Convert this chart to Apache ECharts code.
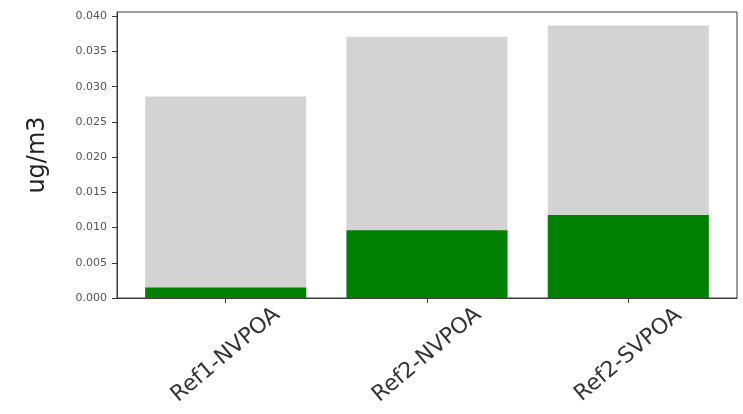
<!DOCTYPE html>
<html>
<head>
<meta charset="utf-8">
<script src="https://cdn.jsdelivr.net/npm/echarts@6/dist/echarts.min.js"></script>
<style>
  html, body { margin: 0; padding: 0; background: #ffffff; }
  #chart { width: 743px; height: 414px; }
</style>
</head>
<body>
<div id="chart"></div>
<script>
// Aerosol concentration per reference case
const categories = ['Ref1-NVPOA', 'Ref2-NVPOA', 'Ref2-SVPOA'];
const totalValues = [0.0286, 0.0371, 0.0387];   // light grey bars
const greenValues = [0.0015, 0.0096, 0.0118];   // green bars drawn over them
const yTicks = [0, 0.005, 0.010, 0.015, 0.020, 0.025, 0.030, 0.035, 0.040];
const catPositions = categories.map((_, i) => i);

const chart = echarts.init(document.getElementById('chart'), null, { renderer: 'canvas' });

const frameColor = '#3a3a3a';
const font = 'DejaVu Sans';

chart.setOption({
  animation: false,
  backgroundColor: '#ffffff',
  grid: {
    left: 117, right: 6, top: 12, bottom: 116,
    show: true, borderColor: frameColor, borderWidth: 1, backgroundColor: 'transparent'
  },
  xAxis: {
    type: 'value',
    min: -0.54,
    max: 2.54,
    splitLine: { show: false },
    axisLine: { show: true, onZero: false, lineStyle: { color: frameColor, width: 1 } },
    axisTick: { show: true, length: 5, customValues: catPositions, lineStyle: { color: frameColor } },
    axisLabel: {
      customValues: catPositions,
      formatter: (v) => categories[Math.round(v)],
      rotate: 40,
      align: 'center',
      verticalAlign: 'middle',
      margin: 57,
      fontFamily: font,
      fontSize: 22,
      color: '#333333'
    }
  },
  yAxis: {
    type: 'value',
    min: 0,
    max: 0.0406,
    name: 'ug/m3',
    nameLocation: 'middle',
    nameGap: 67,
    nameTextStyle: { fontFamily: font, fontSize: 24, color: '#222222' },
    splitLine: { show: false },
    axisLine: { show: true, onZero: false, lineStyle: { color: frameColor, width: 1 } },
    axisTick: { show: true, length: 5, customValues: yTicks, lineStyle: { color: frameColor } },
    axisLabel: {
      customValues: yTicks,
      formatter: (v) => v.toFixed(3),
      margin: 10,
      fontFamily: font,
      fontSize: 11,
      color: '#555555'
    }
  },
  series: [
    {
      name: 'total',
      type: 'bar',
      data: catPositions.map((x, i) => [x, totalValues[i]]),
      barWidth: '80%',
      barGap: '-100%',
      itemStyle: { color: '#d3d3d3' }
    },
    {
      name: 'green',
      type: 'bar',
      data: catPositions.map((x, i) => [x, greenValues[i]]),
      barWidth: '80%',
      barGap: '-100%',
      itemStyle: { color: '#008000' }
    }
  ]
});
</script>
</body>
</html>
